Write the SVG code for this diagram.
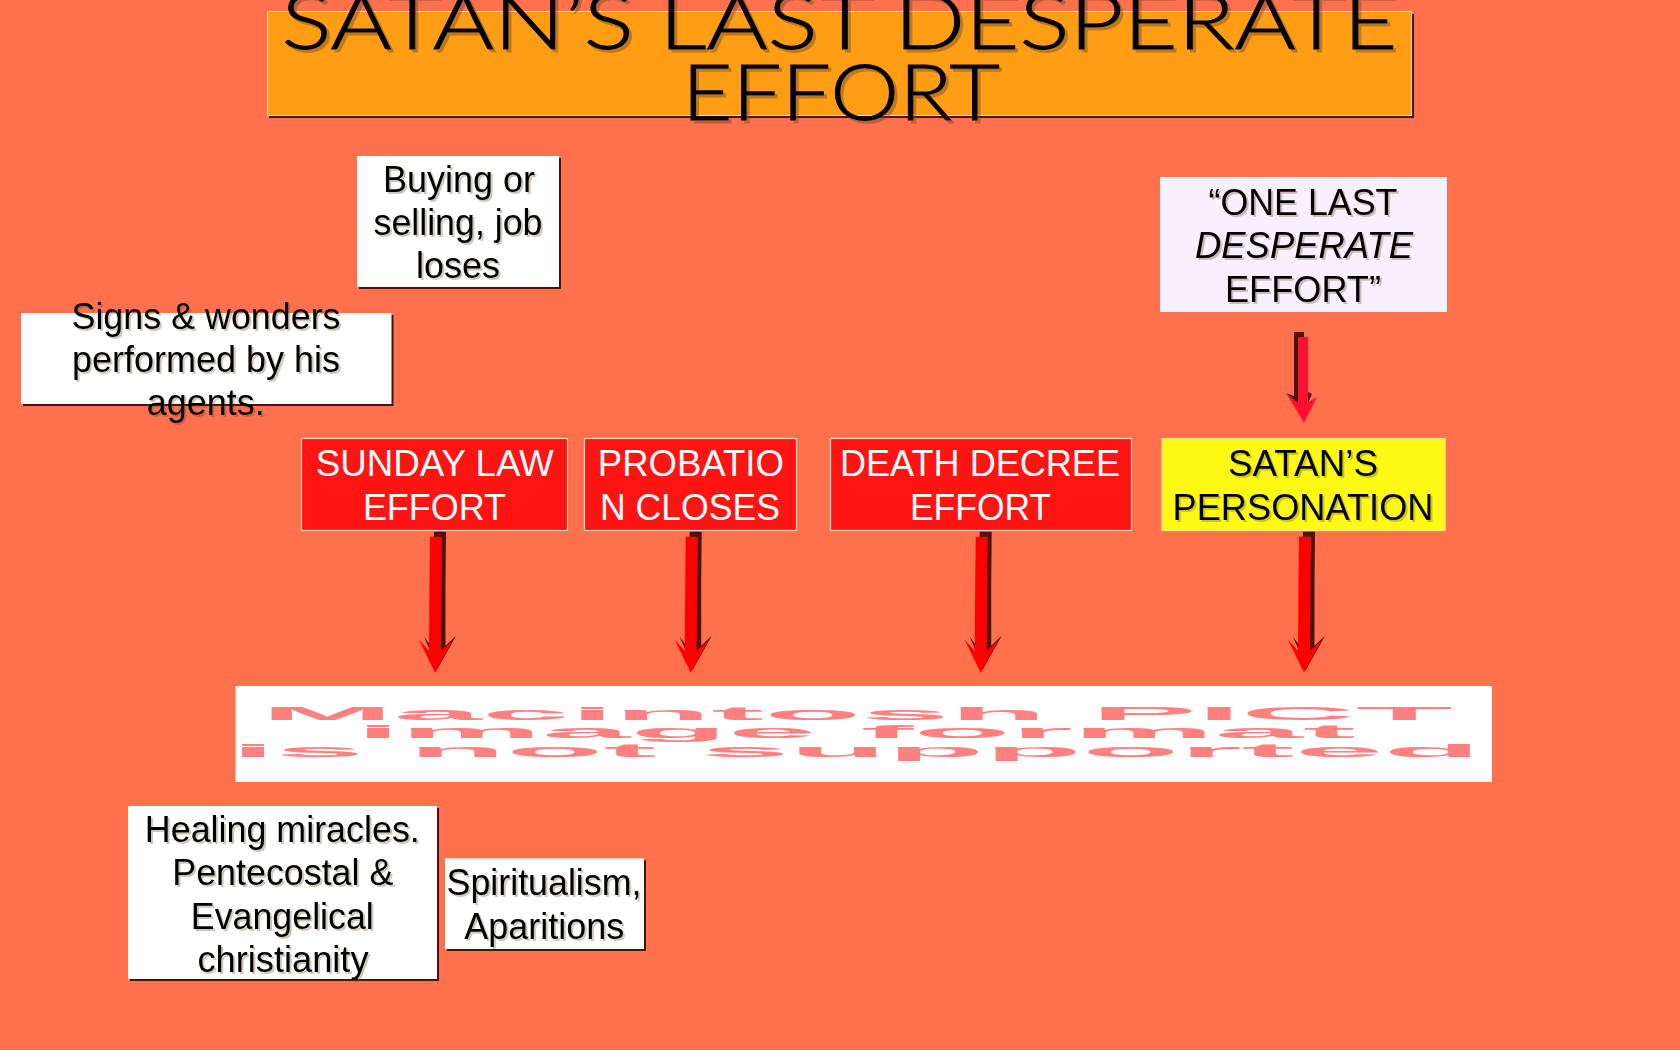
<svg xmlns="http://www.w3.org/2000/svg" width="1680" height="1050" viewBox="0 0 1680 1050">
<style>
text{font-family:"Liberation Sans",Arial,sans-serif;font-size:36px;text-anchor:middle;fill:#000}
.sh{filter:url(#ts)}
.white{fill:#fff}
.lav{fill:#f8f0ff}
.red{fill:#ff1414;stroke:#ffd8c8;stroke-width:1.2}
.yel{fill:#fdf914;stroke:#ffe98a;stroke-width:1.2}
.shadow{fill:#4a1408}
.title{font-family:"Lato","Open Sans",sans-serif;font-weight:300;font-size:76px;stroke:#000;stroke-width:.9}
.pict{font-weight:bold;font-size:17.500px;fill:#ff8080}
</style>
<defs>
<filter id="ts" x="-5%" y="-15%" width="110%" height="130%"><feDropShadow dx="2" dy="2" stdDeviation="0.5" flood-color="#5a4a20" flood-opacity=".3"/></filter>
<filter id="tt" x="-5%" y="-15%" width="110%" height="130%"><feDropShadow dx="3" dy="3" stdDeviation="0.5" flood-color="#6a4a20" flood-opacity=".45"/></filter>
<g id="arrow">
<polygon class="shadow" points="-1,-141 11,-141 10.500,-90 10.500,-27 21,-37 2,-3 -5,-22 -11,-36 -5,-28"/>
<polygon fill="#ff0000" points="-5,-136 7,-136 6.500,-90 6,-22 18,-33 0,0 -16,-33 -6,-22 -5.500,-90"/>
</g>
</defs>
<rect id="background" width="1680" height="1050" fill="#ff704d"/>

<g id="node-title">
<rect class="shadow" x="269" y="14" width="1145" height="104"/>
<rect x="267.500" y="11.500" width="1144" height="104" fill="#ff9e14" stroke="#ffe9b0" stroke-width="1"/>
<g style="filter:url(#tt)">
<text class="title" x="839.500" y="49.300" textLength="1116" lengthAdjust="spacingAndGlyphs">SATAN’S LAST DESPERATE</text>
<text class="title" x="841" y="120" textLength="318" lengthAdjust="spacingAndGlyphs">EFFORT</text>
</g>
</g>

<g id="node-buying">
<rect class="shadow" x="359" y="158" width="202" height="131"/>
<rect class="white" x="357" y="156" width="202" height="131"/>
<g class="sh">
<text x="459" y="192" textLength="152" lengthAdjust="spacingAndGlyphs">Buying or</text>
<text x="458" y="235" textLength="169" lengthAdjust="spacingAndGlyphs">selling, job</text>
<text x="458" y="278" textLength="84" lengthAdjust="spacingAndGlyphs">loses</text>
</g>
</g>

<g id="node-one-last">
<rect class="lav" x="1160" y="177" width="287" height="135"/>
<g class="sh">
<text x="1303" y="214.800" textLength="189" lengthAdjust="spacingAndGlyphs">“ONE LAST</text>
<text x="1304" y="258.300" textLength="218" lengthAdjust="spacingAndGlyphs" font-style="italic">DESPERATE</text>
<text x="1303" y="301.500" textLength="156" lengthAdjust="spacingAndGlyphs">EFFORT”</text>
</g>
</g>

<g id="node-signs">
<rect class="shadow" x="23" y="315" width="370.500" height="91"/>
<rect class="white" x="21" y="313" width="370.500" height="91"/>
<g class="sh">
<text x="206" y="329" textLength="269" lengthAdjust="spacingAndGlyphs">Signs &amp; wonders</text>
<text x="206" y="372" textLength="268" lengthAdjust="spacingAndGlyphs">performed by his</text>
<text x="205.700" y="415" textLength="118" lengthAdjust="spacingAndGlyphs">agents.</text>
</g>
</g>

<g id="node-sunday">
<rect class="red" x="301.500" y="438.500" width="266" height="92"/>
<text class="white" x="434.700" y="476" textLength="238" lengthAdjust="spacingAndGlyphs">SUNDAY LAW</text>
<text class="white" x="434.400" y="520" textLength="143" lengthAdjust="spacingAndGlyphs">EFFORT</text>
</g>

<g id="node-probation">
<rect class="red" x="584.500" y="438.500" width="212" height="92"/>
<text class="white" x="690.800" y="476" textLength="186" lengthAdjust="spacingAndGlyphs">PROBATIO</text>
<text class="white" x="690" y="520" textLength="180" lengthAdjust="spacingAndGlyphs">N CLOSES</text>
</g>

<g id="node-death">
<rect class="red" x="830.500" y="438.500" width="301" height="92"/>
<text class="white" x="980" y="476" textLength="280" lengthAdjust="spacingAndGlyphs">DEATH DECREE</text>
<text class="white" x="980.500" y="520" textLength="141" lengthAdjust="spacingAndGlyphs">EFFORT</text>
</g>

<g id="node-satan">
<rect class="yel" x="1162" y="438.500" width="283" height="92"/>
<g class="sh">
<text x="1303" y="476" textLength="150" lengthAdjust="spacingAndGlyphs">SATAN’S</text>
<text x="1303" y="520" textLength="261" lengthAdjust="spacingAndGlyphs">PERSONATION</text>
</g>
</g>

<g id="connectors">
<use href="#arrow" x="435" y="672.700"/>
<use href="#arrow" x="690.700" y="672.700"/>
<use href="#arrow" x="980.700" y="672.700"/>
<use href="#arrow" x="1304" y="672.700"/>
<g id="arrow-top">
<polygon class="shadow" points="1294,332 1304,332 1304,390 1312,394 1304,412 1294,400 1286,393 1294,396"/>
<polygon fill="#ff1030" points="1298,337 1308,337 1308,402 1317,397 1304,422.700 1286,393 1298,403"/>
</g>
</g>

<g id="node-picture">
<rect class="white" x="235.500" y="686" width="1256.500" height="96"/>
<text class="pict" x="857" y="720.300" textLength="1192" lengthAdjust="spacingAndGlyphs">Macintosh PICT</text>
<text class="pict" x="856" y="738.300" textLength="1000" lengthAdjust="spacingAndGlyphs">image format</text>
<text class="pict" x="856" y="756.700" textLength="1250" lengthAdjust="spacingAndGlyphs">is not supported</text>
</g>

<g id="node-healing">
<rect class="shadow" x="130" y="808" width="309" height="173"/>
<rect class="white" x="128" y="806" width="309" height="173"/>
<g class="sh">
<text x="282.300" y="841.500" textLength="275" lengthAdjust="spacingAndGlyphs">Healing miracles.</text>
<text x="282.800" y="885" textLength="221" lengthAdjust="spacingAndGlyphs">Pentecostal &amp;</text>
<text x="282.300" y="928.500" textLength="183" lengthAdjust="spacingAndGlyphs">Evangelical</text>
<text x="283" y="971.500" textLength="171" lengthAdjust="spacingAndGlyphs">christianity</text>
</g>
</g>

<g id="node-spiritualism">
<rect class="shadow" x="447" y="860.300" width="199" height="90.700"/>
<rect class="white" x="445" y="858.300" width="199" height="90.700"/>
<g class="sh">
<text x="544" y="895" textLength="195" lengthAdjust="spacingAndGlyphs">Spiritualism,</text>
<text x="544.300" y="939" textLength="160" lengthAdjust="spacingAndGlyphs">Aparitions</text>
</g>
</g>
</svg>
